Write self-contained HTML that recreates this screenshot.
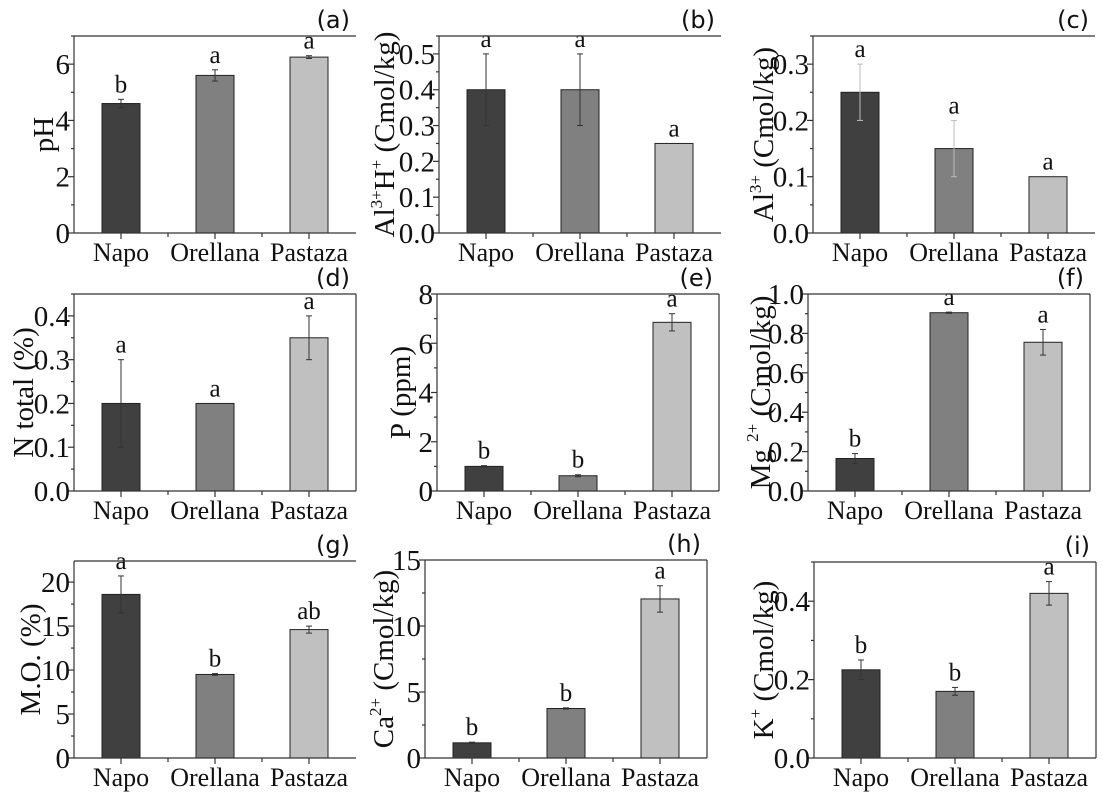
<!DOCTYPE html>
<html><head><meta charset="utf-8">
<style>
html,body{margin:0;padding:0;background:#fff;}
svg{display:block;}
text{font-family:"Liberation Serif",serif;fill:#111;}
.pl{font-family:"DejaVu Sans","Liberation Sans",sans-serif;}
</style></head>
<body>
<svg id="fig" width="1103" height="797" viewBox="0 0 1103 797" xmlns="http://www.w3.org/2000/svg"></svg>
<script>
const categories = ["Napo","Orellana","Pastaza"];
const phVals = [4.6,5.6,6.25], phErr = [0.15,0.2,0.05], phSig = ["b","a","a"];
const alhVals = [0.4,0.4,0.25], alhErr = [0.1,0.1,0], alhSig = ["a","a","a"];
const alVals = [0.25,0.15,0.1], alErr = [0.05,0.05,0], alSig = ["a","a","a"];
const nVals = [0.2,0.2,0.35], nErr = [0.1,0,0.05], nSig = ["a","a","a"];
const pVals = [1.0,0.62,6.85], pErr = [0.03,0.04,0.35], pSig = ["b","b","a"];
const mgVals = [0.165,0.905,0.755], mgErr = [0.025,0.003,0.065], mgSig = ["b","a","a"];
const moVals = [18.6,9.5,14.6], moErr = [2.1,0.1,0.4], moSig = ["a","b","ab"];
const caVals = [1.15,3.75,12.05], caErr = [0.05,0.05,1.0], caSig = ["b","b","a"];
const kVals = [0.225,0.17,0.42], kErr = [0.025,0.01,0.03], kSig = ["b","b","a"];
const phTicks = [0,2,4,6], alhTicks = [0,0.1,0.2,0.3,0.4,0.5], alTicks = [0,0.1,0.2,0.3];
const nTicks = [0,0.1,0.2,0.3,0.4], pTicks = [0,2,4,6,8], mgTicks = [0,0.2,0.4,0.6,0.8,1.0];
const moTicks = [0,5,10,15,20], caTicks = [0,5,10,15], kTicks = [0,0.2,0.4];

const NS="http://www.w3.org/2000/svg";
const svg=document.getElementById('fig');
function el(tag,attrs,parent){const e=document.createElementNS(NS,tag);for(const k in attrs)e.setAttribute(k,attrs[k]);(parent||svg).appendChild(e);return e;}
const fills=["#404040","#808080","#c0c0c0"];

const panels=[
 {id:"a",x:74,y:36,ymax:7,vals:phVals,err:phErr,sig:phSig,ticks:phTicks,minor:1,dec:0,title:[["pH",0]],tb:53,right:false,ec:"#333"},
 {id:"b",x:439,y:36,ymax:0.55,vals:alhVals,err:alhErr,sig:alhSig,ticks:alhTicks,minor:0.05,dec:1,title:[["Al",0],["3+",1],["H",0],["+",1],[" (Cmol/kg)",0]],tb:394,right:false,ec:"#333"},
 {id:"c",x:813,y:36,ymax:0.35,vals:alVals,err:alErr,sig:alSig,ticks:alTicks,minor:0.05,dec:1,title:[["Al",0],["3+",1],[" (Cmol/kg)",0]],tb:773,right:false,ec:"#bbb"},
 {id:"d",x:74,y:294,ymax:0.45,vals:nVals,err:nErr,sig:nSig,ticks:nTicks,minor:0.05,dec:1,title:[["N total (%)",0]],tb:33,right:true,ec:"#333"},
 {id:"e",x:437,y:294,ymax:8,vals:pVals,err:pErr,sig:pSig,ticks:pTicks,minor:1,dec:0,title:[["P (ppm)",0]],tb:410,right:true,ec:"#333"},
 {id:"f",x:808,y:294,ymax:1.0,vals:mgVals,err:mgErr,sig:mgSig,ticks:mgTicks,minor:0.1,dec:1,title:[["Mg ",0],["2+",1],[" (Cmol/kg)",0]],tb:770,right:true,ec:"#333"},
 {id:"g",x:74,y:561,ymax:22.4,vals:moVals,err:moErr,sig:moSig,ticks:moTicks,minor:2.5,dec:0,title:[["M.O. (%)",0]],tb:40,right:false,ec:"#333"},
 {id:"h",x:425,y:560,ymax:15,vals:caVals,err:caErr,sig:caSig,ticks:caTicks,minor:2.5,dec:0,title:[["Ca",0],["2+",1],[" (Cmol/kg)",0]],tb:393,right:true,ec:"#333"},
 {id:"i",x:814,y:562,ymax:0.5,vals:kVals,err:kErr,sig:kSig,ticks:kTicks,minor:0.1,dec:1,title:[["K",0],["+",1],[" (Cmol/kg)",0]],tb:773,right:true,ec:"#333"}
];

panels.forEach(P=>{
 const W=282;
 const bottom=P.id<="c"?233:(P.id<="f"?491:758);
 const top=P.y, left=P.x, right=left+W;
 const yS=v=>bottom-(v/P.ymax)*(bottom-top);
 const xC=i=>left+W*(i+0.5)/3;
 const g=el('g',{});
 
 
 P.vals.forEach((v,i)=>{
  const r=el('rect',{x:xC(i)-19,y:yS(v),width:38,height:bottom-yS(v),fill:fills[i],stroke:"#222","stroke-width":1},g);
  
  
  const e=P.err[i];
  if(e>0){
   const eb=el('g',{stroke:P.ec,"stroke-width":1},g);
   
   
   el('line',{x1:xC(i),x2:xC(i),y1:yS(v+e),y2:yS(v-e)},eb);
   el('line',{x1:xC(i)-3,x2:xC(i)+3,y1:yS(v+e),y2:yS(v+e)},eb);
   el('line',{x1:xC(i)-3,x2:xC(i)+3,y1:yS(v-e),y2:yS(v-e)},eb);
  }
  const t=el('text',{x:xC(i),y:yS(v+e)-7,"text-anchor":"middle","font-size":25},g);
  t.textContent=P.sig[i];
  
  
 });
 const ax=el('g',{stroke:"#333","stroke-width":1.2,fill:"none"},g);
 
 
 el('line',{x1:left,x2:left,y1:top,y2:bottom},ax);
 el('line',{x1:left,x2:right,y1:bottom,y2:bottom},ax);
 el('line',{x1:left,x2:right,y1:top,y2:top},ax);
 if(P.right) el('line',{x1:right,x2:right,y1:top,y2:bottom},ax);
 for(let v=0; v<=P.ymax+1e-9; v+=P.minor){
  const vv=Math.round(v*1000)/1000;
  const major=P.ticks.some(t=>Math.abs(t-vv)<1e-6);
  el('line',{x1:left,x2:left-(major?6:3),y1:yS(vv),y2:yS(vv)},ax);
 }
 P.ticks.forEach(t=>{
  const tl=el('text',{x:left-4,y:yS(t)+10,"text-anchor":"end","font-size":29},g);
  tl.textContent=t.toFixed(P.dec);
  
  
 });
 for(let k=1;k<6;k++){
  const x=left+W*k/6;
  el('line',{x1:x,x2:x,y1:bottom,y2:bottom+(k%2?6:4)},ax);
 }
 categories.forEach((c,i)=>{
  const cl=el('text',{x:xC(i),y:bottom+28,"text-anchor":"middle","font-size":26},g);
  cl.textContent=c;
  
  
 });
 const cy=(top+bottom)/2;
 const tt=el('text',{x:0,y:0,"text-anchor":"middle","font-size":29,transform:`translate(${P.tb},${cy}) rotate(-90)`},g);
 
 
 let prevSup=false;
 P.title.forEach(([s,sup])=>{
  const a=sup?{"font-size":17,dy:-12}:(prevSup?{dy:12}:{});
  const sp=el('tspan',a,tt);
  sp.textContent=s;
  prevSup=!!sup;
 });
 const pl=el('text',{x:right-6,y:top-8,"text-anchor":"end","font-size":24,class:"pl"},g);
 pl.textContent='('+P.id+')';
 
 
});
</script>
</body></html>
